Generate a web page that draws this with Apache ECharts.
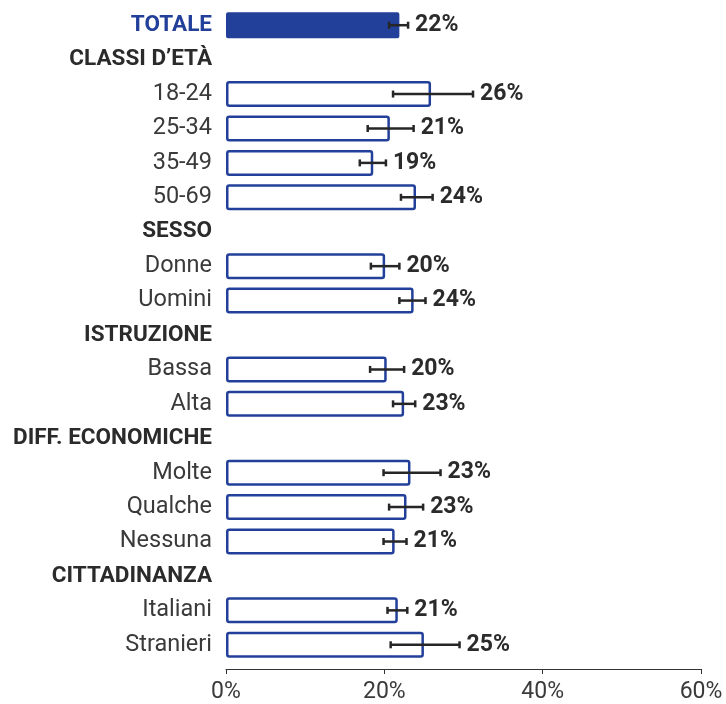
<!DOCTYPE html>
<html>
<head>
<meta charset="utf-8">
<script src="https://cdn.jsdelivr.net/npm/echarts@6/dist/echarts.min.js"></script>
<style>
  html, body { margin: 0; padding: 0; background: #fff; }
  #chart { width: 726px; height: 704px; }
</style>
</head>
<body>
<div id="chart"></div>
<script>
// categorie (righe), dall'alto verso il basso
const categories = [
  "TOTALE", "CLASSI D’ETÀ", "18-24", "25-34", "35-49", "50-69",
  "SESSO", "Donne", "Uomini",
  "ISTRUZIONE", "Bassa", "Alta",
  "DIFF. ECONOMICHE", "Molte", "Qualche", "Nessuna",
  "CITTADINANZA", "Italiani", "Stranieri"
];
// tipo di riga: total / header / item
const rowTypes = [
  "total", "header", "item", "item", "item", "item",
  "header", "item", "item",
  "header", "item", "item",
  "header", "item", "item", "item",
  "header", "item", "item"
];
// valori %
const values = [21.9, null, 25.9, 20.7, 18.6, 24.0, null, 20.1, 23.7, null, 20.3, 22.5, null, 23.3, 22.8, 21.3, null, 21.7, 25.0];
// intervalli di confidenza
const lows = [20.6, null, 21.1, 17.9, 16.9, 22.1, null, 18.3, 21.9, null, 18.2, 21.1, null, 19.9, 20.6, 19.9, null, 20.4, 20.8];
const highs = [23.0, null, 31.2, 23.7, 20.2, 26.1, null, 21.9, 25.2, null, 22.5, 23.9, null, 27.1, 24.9, 22.8, null, 22.9, 29.5];
// etichette
const valueLabels = ["22%", "", "26%", "21%", "19%", "24%", "", "20%", "24%", "", "20%", "23%", "", "23%", "23%", "21%", "", "21%", "25%"];
const xTicks = [0, 20, 40, 60];

const BLUE = "#22409A";
const FONT = "Roboto";

const chart = echarts.init(document.getElementById("chart"));

const barData = values.map((v, i) => {
  if (v === null) return null;
  if (rowTypes[i] === "total") {
    return { value: v, itemStyle: { color: BLUE, borderColor: BLUE, borderWidth: 0 } };
  }
  return { value: v };
});

const errData = [];
lows.forEach((lo, i) => {
  if (lo !== null) errData.push([i, lo, highs[i], valueLabels[i]]);
});

const option = {
  animation: false,
  grid: { left: 226, right: 25, top: 8, bottom: 42 },
  xAxis: {
    type: "value",
    min: 0,
    max: 60,
    interval: 20,
    offset: 7,
    splitLine: { show: false },
    axisLine: { show: true, lineStyle: { color: "#333", width: 1 } },
    axisTick: { show: true, length: 5, lineStyle: { color: "#333", width: 1 } },
    axisLabel: {
      margin: 12,
      color: "#3a3a3a",
      fontFamily: FONT,
      fontSize: 23,
      formatter: v => xTicks.includes(v) ? v + "%" : ""
    }
  },
  yAxis: {
    type: "category",
    inverse: true,
    data: categories,
    axisLine: { show: false },
    axisTick: { show: false },
    axisLabel: {
      margin: 14,
      fontFamily: FONT,
      formatter: (val, idx) => "{" + rowTypes[idx] + "|" + val + "}",
      rich: {
        total: { color: BLUE, fontWeight: "bold", fontSize: 22.5, fontFamily: FONT },
        header: { color: "#2b2b2b", fontWeight: "bold", fontSize: 22.5, fontFamily: FONT },
        item: { color: "#3a3a3a", fontSize: 23.5, fontFamily: FONT }
      }
    }
  },
  series: [
    {
      type: "bar",
      data: barData,
      barWidth: 26,
      itemStyle: {
        color: "#fff",
        borderColor: BLUE,
        borderWidth: 2.5,
        borderRadius: 2
      }
    },
    {
      type: "custom",
      data: errData,
      z: 10,
      encode: { x: [1, 2], y: 0 },
      renderItem: (params, api) => {
        const idx = api.value(0);
        const p1 = api.coord([api.value(1), idx]);
        const p2 = api.coord([api.value(2), idx]);
        const y = p1[1];
        const h = 3.5;
        const ls = { stroke: "#262626", lineWidth: 2.5 };
        return {
          type: "group",
          children: [
            { type: "line", shape: { x1: p1[0], y1: y, x2: p2[0], y2: y }, style: ls },
            { type: "line", shape: { x1: p1[0], y1: y - h, x2: p1[0], y2: y + h }, style: ls },
            { type: "line", shape: { x1: p2[0], y1: y - h, x2: p2[0], y2: y + h }, style: ls },
            {
              type: "text",
              style: {
                x: p2[0] + 7,
                y: y,
                text: api.value(3),
                fill: "#2b2b2b",
                font: "bold 23px " + FONT,
                verticalAlign: "middle",
                align: "left"
              }
            }
          ]
        };
      }
    }
  ]
};

chart.setOption(option);
</script>
</body>
</html>
